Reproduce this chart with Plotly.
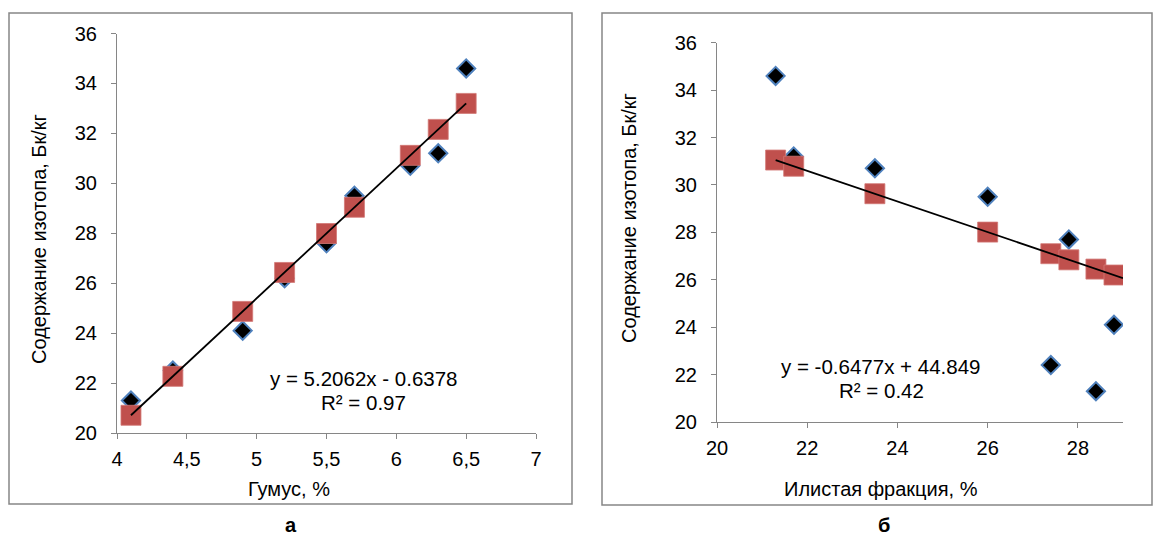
import plotly.graph_objects as go

W, H = 1153, 540

# ---- Panel "а": humus vs isotope content ----
humus = [4.1, 4.4, 4.9, 5.2, 5.5, 5.7, 6.1, 6.3, 6.5]
isotope_a = [21.3, 22.5, 24.1, 26.2, 27.6, 29.5, 30.7, 31.2, 34.6]
predicted_a = [20.71, 22.27, 24.87, 26.43, 27.99, 29.04, 31.12, 32.16, 33.20]
trend_a_x = [4.1, 6.5]
trend_a_y = [20.71, 33.20]

# ---- Panel "б": silt fraction vs isotope content ----
silt = [21.3, 21.7, 23.5, 26.0, 27.8, 27.4, 28.4, 28.8]
isotope_b = [34.6, 31.2, 30.7, 29.5, 27.7, 22.4, 21.3, 24.1]
silt_pred = [21.3, 21.7, 23.5, 26.0, 27.4, 27.8, 28.4, 28.8]
predicted_b = [31.05, 30.79, 29.63, 28.01, 27.10, 26.84, 26.45, 26.20]
trend_b_x = [21.3, 29.0]
trend_b_y = [31.05, 26.07]

x_ticks_a = [4, 4.5, 5, 5.5, 6, 6.5, 7]
x_ticks_b = [20, 22, 24, 26, 28]
y_ticks = [20, 22, 24, 26, 28, 30, 32, 34, 36]

FONT = "Liberation Sans, Arial, sans-serif"
GRAY = "#868686"
RED = "#C0504D"
BLUE = "#4F81BD"


def px(x):
    return x / W


def py(y):
    return 1 - y / H


diamond = dict(symbol="diamond", size=14, color="black", line=dict(color=BLUE, width=2))
square = dict(symbol="square", size=20, color=RED, line=dict(color="rgba(210,120,118,0.8)", width=1))
trend = dict(color="black", width=1.8)

fig = go.Figure()
fig.add_trace(go.Scatter(x=humus, y=isotope_a, mode="markers", marker=diamond, xaxis="x", yaxis="y"))
fig.add_trace(go.Scatter(x=humus, y=predicted_a, mode="markers", marker=square, xaxis="x", yaxis="y"))
fig.add_trace(go.Scatter(x=trend_a_x, y=trend_a_y, mode="lines", line=trend, xaxis="x", yaxis="y"))

fig.add_trace(go.Scatter(x=silt, y=isotope_b, mode="markers", marker=diamond, xaxis="x2", yaxis="y2"))
fig.add_trace(go.Scatter(x=silt_pred, y=predicted_b, mode="markers", marker=square, xaxis="x2", yaxis="y2"))
fig.add_trace(go.Scatter(x=trend_b_x, y=trend_b_y, mode="lines", line=trend, xaxis="x2", yaxis="y2"))

axis_common = dict(
    showline=True, linecolor=GRAY, linewidth=1, ticks="outside", ticklen=5,
    tickcolor=GRAY, tickwidth=1, showgrid=False, zeroline=False, automargin=False,
    tickfont=dict(family=FONT, size=20, color="black"),
)

fig.update_layout(
    width=W, height=H,
    margin=dict(l=0, r=0, t=0, b=0, pad=0),
    paper_bgcolor="white", plot_bgcolor="white",
    showlegend=False,
    separators=", ",
    font=dict(family=FONT, color="black"),
    xaxis=dict(domain=[px(117), px(536)], range=[4, 7], tickvals=x_ticks_a,
               anchor="y", ticklabelstandoff=3, **axis_common),
    yaxis=dict(domain=[py(433), py(33.5)], range=[20, 36], tickvals=y_ticks,
               anchor="x", ticklabelstandoff=10, **axis_common),
    xaxis2=dict(domain=[px(717), px(1123)], range=[20, 29], tickvals=x_ticks_b,
                anchor="y2", ticklabelstandoff=3, **axis_common),
    yaxis2=dict(domain=[py(422), py(42.7)], range=[20, 36], tickvals=y_ticks,
                anchor="x2", ticklabelstandoff=10, **axis_common),
)

shapes = [
    dict(type="rect", xref="paper", yref="paper", x0=px(9), x1=px(572), y0=py(504), y1=py(13),
         line=dict(color=GRAY, width=1.5)),
    dict(type="rect", xref="paper", yref="paper", x0=px(602), x1=px(1152), y0=py(505), y1=py(13),
         line=dict(color=GRAY, width=1.5)),
]
fig.update_layout(shapes=shapes)


def ann(text, x, y, size=20, angle=0, bold=False):
    if bold:
        text = "<b>" + text + "</b>"
    return dict(text=text, x=px(x), y=py(y), xref="paper", yref="paper", showarrow=False,
                xanchor="center", yanchor="middle", textangle=angle,
                font=dict(family=FONT, size=size, color="black"))


annotations = [
    ann("Гумус, %", 289, 489),
    ann("Илистая фракция, %", 881, 489),
    ann("Содержание изотопа, Бк/кг", 39, 239, angle=-90),
    ann("Содержание изотопа, Бк/кг", 629, 218, angle=-90),
    ann("y = 5.2062x - 0.6378", 363, 378, size=20.5),
    ann("R² = 0.97", 363, 402, size=20.5),
    ann("y = -0.6477x + 44.849", 880, 366, size=20.5),
    ann("R² = 0.42", 881, 390, size=20.5),
    ann("а", 291, 525, size=20, bold=True),
    ann("б", 884, 525, size=20, bold=True),
]
fig.update_layout(annotations=annotations)

fig.write_html("out.html")
